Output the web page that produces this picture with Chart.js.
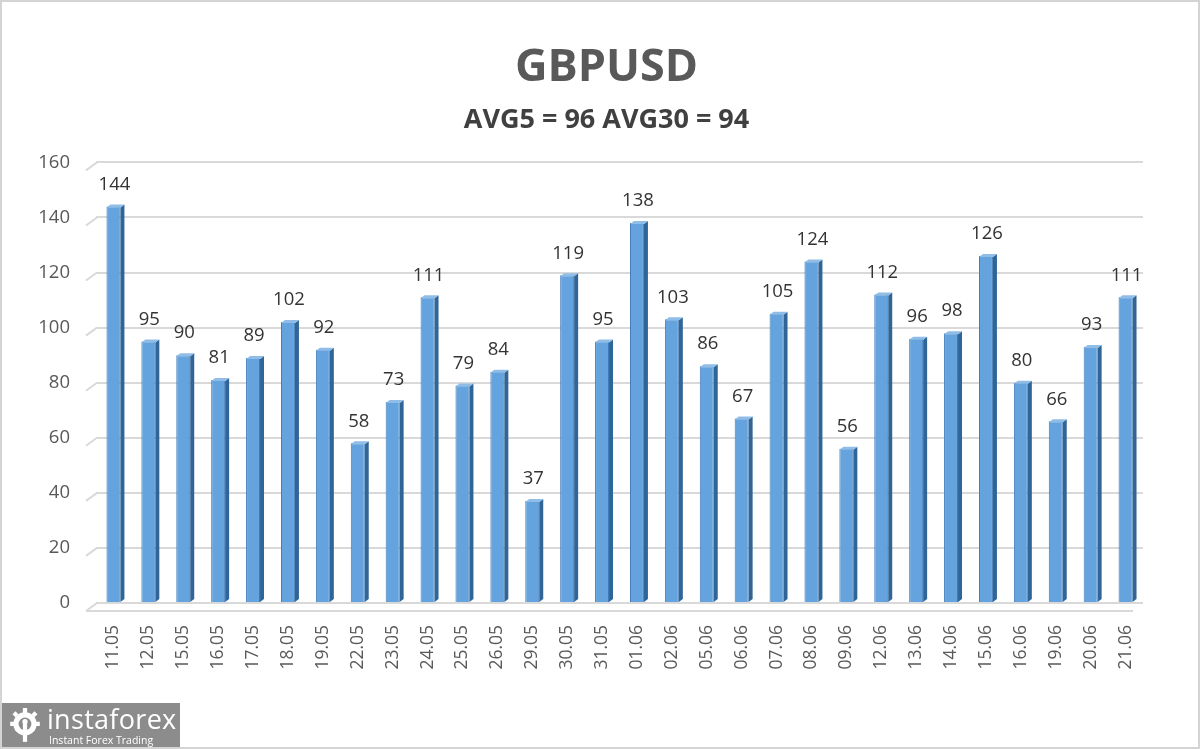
<!DOCTYPE html>
<html>
<head>
<meta charset="utf-8">
<script src="https://cdn.jsdelivr.net/npm/chart.js@4.4.0/dist/chart.umd.min.js"></script>
<style>
  html, body { margin: 0; padding: 0; background: #ffffff; }
  #wrap { position: relative; width: 1200px; height: 749px; overflow: hidden; }
  #frame { position: absolute; left: 0; top: 0; width: 1200px; height: 749px; box-sizing: border-box; border: 2px solid #d4d4d4; pointer-events: none; }
  #logo { position: absolute; left: 0; top: 703px; width: 180px; height: 46px; background: #8c8c8c; color: #fff; font-family: "Open Sans", sans-serif; }
  #logo .big { position: absolute; left: 47px; top: -1px; font-size: 27px; letter-spacing: 0.3px; line-height: 34px; }
  #logo .small { position: absolute; left: 49px; top: 31px; font-size: 10.5px; line-height: 13px; }
  #logo svg { position: absolute; left: 7px; top: 5px; }
</style>
</head>
<body>
<div id="wrap">
  <canvas id="c" width="1200" height="749"></canvas>
  <div id="logo">
    <svg width="36" height="36" viewBox="0 0 34 34">
      <g fill="#fff">
        <circle cx="17" cy="15" r="11"/>
      </g>
      <g fill="#8c8c8c">
        <circle cx="17" cy="15" r="6"/>
      </g>
      <g fill="#fff">
        <rect x="15" y="0" width="4" height="5"/>
        <rect x="3" y="13" width="5" height="4"/>
        <rect x="26" y="13" width="5" height="4"/>
        <rect x="6" y="4" width="4" height="4" transform="rotate(45 8 6)"/>
        <rect x="24" y="4" width="4" height="4" transform="rotate(45 26 6)"/>
        <rect x="15" y="15" width="4" height="17"/>
        <circle cx="17" cy="13" r="2.5"/>
      </g>
    </svg>
    <div class="big">instaforex</div>
    <div class="small">Instant Forex Trading</div>
  </div>
  <div id="frame"></div>
</div>
<script>
const categories = ["11.05","12.05","15.05","16.05","17.05","18.05","19.05","22.05","23.05","24.05","25.05","26.05","29.05","30.05","31.05","01.06","02.06","05.06","06.06","07.06","08.06","09.06","12.06","13.06","14.06","15.06","16.06","19.06","20.06","21.06"];
const values = [144,95,90,81,89,102,92,58,73,111,79,84,37,119,95,138,103,86,67,105,124,56,112,96,98,126,80,66,93,111];
const titleText = "GBPUSD";
const subtitleText = "AVG5 = 96 AVG30 = 94";
const yMin = 0, yMax = 160, yStep = 20;

const FONT = "'Open Sans', 'DejaVu Sans', sans-serif";
const Y_TICK_PAD = 26;

// centre the title blocks over the plot plus the y tick labels' edge
const titleCentre = {
  id: 'titleCentre',
  afterLayout(chart) {
    const ca = chart.chartArea;
    chart.boxes.forEach(b => {
      if (b.position === 'top' && b.options && b.options.text !== undefined) {
        b.left = ca.left - Y_TICK_PAD;
        b.right = ca.right;
        b.width = b.right - b.left;
      }
    });
  }
};

const bar3d = {
  id: 'bar3d',
  beforeDatasetsDraw(chart) {
    const ctx = chart.ctx;
    const y = chart.scales.y;
    const left = chart.chartArea.left;
    ctx.save();
    ctx.strokeStyle = '#d9d9d9';
    ctx.lineWidth = 2;
    y.ticks.forEach(t => {
      const py = y.getPixelForValue(t.value);
      ctx.beginPath();
      ctx.moveTo(left - 10, py + 8);
      ctx.lineTo(left + 1, py);
      ctx.stroke();
    });
    const p0 = y.getPixelForValue(0);
    ctx.beginPath();
    ctx.moveTo(left - 10, p0 + 8);
    ctx.lineTo(chart.chartArea.right - 10, p0 + 8);
    ctx.stroke();
    ctx.restore();
  },
  afterDatasetsDraw(chart) {
    const ctx = chart.ctx;
    const meta = chart.getDatasetMeta(0);
    ctx.save();
    meta.data.forEach((el) => {
      const r = el.x + el.width / 2;
      const top = el.y;
      const base = el.base;
      const d = 4;
      ctx.fillStyle = '#2f6597';
      ctx.beginPath();
      ctx.moveTo(r, top + 1);
      ctx.lineTo(r + d, top - 2);
      ctx.lineTo(r + d, base - 3);
      ctx.lineTo(r, base);
      ctx.closePath();
      ctx.fill();
      ctx.fillStyle = '#8fbde8';
      ctx.beginPath();
      ctx.moveTo(el.x - el.width / 2, top + 1);
      ctx.lineTo(el.x - el.width / 2 + d, top - 2);
      ctx.lineTo(r + d, top - 2);
      ctx.lineTo(r, top + 1);
      ctx.closePath();
      ctx.fill();
    });
    ctx.fillStyle = '#333333';
    ctx.font = "18.5px " + FONT;
    ctx.textAlign = 'center';
    ctx.textBaseline = 'middle';
    meta.data.forEach((el, i) => {
      ctx.fillText(String(values[i]), el.x + 1, el.y - 22);
    });
    ctx.restore();
  }
};

const barGradient = (context) => {
  const chart = context.chart;
  const el = context.element;
  if (!el || !chart.chartArea) return '#64a3dd';
  const x0 = el.x - el.width / 2, x1 = el.x + el.width / 2;
  if (!isFinite(x0) || !isFinite(x1) || x1 <= x0) return '#64a3dd';
  const g = chart.ctx.createLinearGradient(x0, 0, x1, 0);
  g.addColorStop(0, '#5e9cd8');
  g.addColorStop(0.35, '#78b2e6');
  g.addColorStop(1, '#5894d0');
  return g;
};

new Chart(document.getElementById('c'), {
  type: 'bar',
  data: {
    labels: categories,
    datasets: [{
      data: values,
      backgroundColor: barGradient,
      borderColor: '#3d7ab8',
      borderWidth: 1,
      barPercentage: 0.4,
      categoryPercentage: 1.0
    }]
  },
  options: {
    responsive: false,
    animation: false,
    layout: { padding: { left: 0, right: 57, top: 29, bottom: 0 } },
    plugins: {
      legend: { display: false },
      tooltip: { enabled: false },
      title: {
        display: true,
        text: titleText,
        color: '#595959',
        font: { family: FONT, size: 45, weight: 'bold' },
        padding: { top: 12, bottom: 5 }
      },
      subtitle: {
        display: true,
        text: subtitleText,
        color: '#404040',
        font: { family: FONT, size: 27, weight: 'bold' },
        padding: { top: 4, bottom: 26 }
      }
    },
    scales: {
      x: {
        grid: { display: false },
        border: { display: false },
        ticks: {
          color: '#595959',
          font: { family: FONT, size: 17.5 },
          minRotation: 90,
          maxRotation: 90,
          autoSkip: false,
          padding: 14
        },
        afterFit(scale) { scale.height = 146; }
      },
      y: {
        min: yMin,
        max: yMax,
        ticks: {
          stepSize: yStep,
          color: '#595959',
          font: { family: FONT, size: 18.5 },
          padding: Y_TICK_PAD
        },
        grid: { color: '#d9d9d9', lineWidth: 2, drawTicks: false },
        border: { display: false },
        afterFit(scale) { scale.width = 96; }
      }
    }
  },
  plugins: [titleCentre, bar3d]
});
</script>
</body>
</html>
